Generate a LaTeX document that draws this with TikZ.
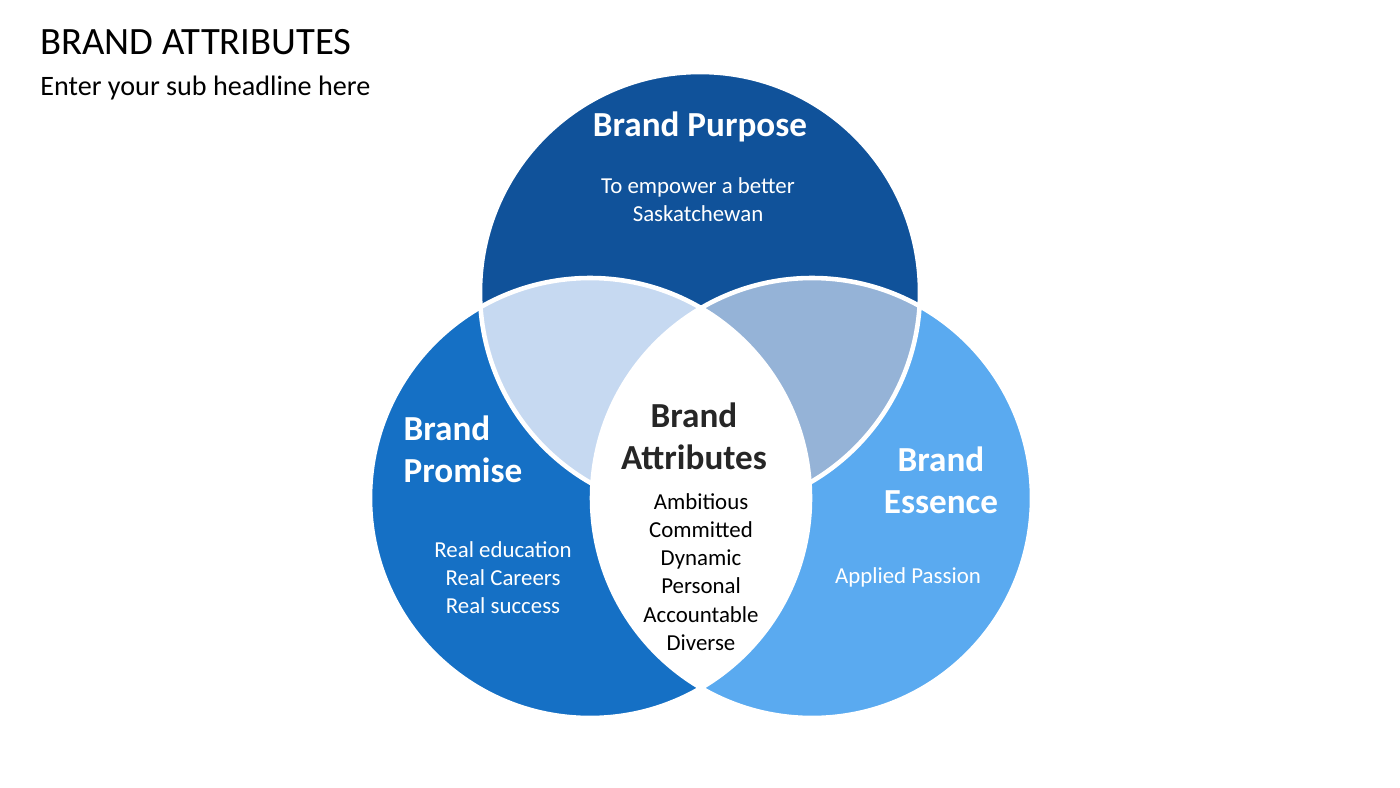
\documentclass[tikz,border=0pt]{standalone}
\usepackage{fontspec}
\setmainfont{Carlito}
\definecolor{purposeblue}{HTML}{10529A}
\definecolor{promiseblue}{HTML}{1570C5}
\definecolor{essenceblue}{HTML}{5AAAF0}
\definecolor{lightblue}{HTML}{C6D9F1}
\definecolor{greyblue}{HTML}{95B3D7}
\tikzset{
  head/.style={font=\fontsize{10}{12}\selectfont\bfseries,align=center},
  body/.style={font=\fontsize{6.5}{8}\selectfont,align=center},
  gap/.style={draw=white,line width=1.3pt}
}
\begin{document}
\begin{tikzpicture}[x=0.01cm,y=-0.01cm]
  \useasboundingbox (0,0) rectangle (1400,788);
  % circles
  \coordinate (top) at (700,292);
  \coordinate (left) at (590,498);
  \coordinate (right) at (812,498);
  \fill[purposeblue] (top) circle (220);
  \fill[promiseblue] (left) circle (220);
  \fill[essenceblue] (right) circle (220);
  \begin{scope}
    \clip (top) circle (220);
    \fill[lightblue] (left) circle (220);
    \fill[greyblue] (right) circle (220);
  \end{scope}
  \begin{scope}
    \clip (left) circle (220);
    \fill[white] (right) circle (220);
  \end{scope}
  \draw[gap] (top) circle (220);
  \draw[gap] (left) circle (220);
  \draw[gap] (right) circle (220);
  % texts
  \node[anchor=base west,font=\fontsize{11}{13}\selectfont] (title) at (28,55) {BRAND ATTRIBUTES};
  \node[anchor=base west,font=\fontsize{8}{10}\selectfont] (sub) at (28,96) {Enter your sub headline here};
  \node[head,white] (purpose) at (700,127) {Brand Purpose};
  \node[body,white] (purposetxt) at (698,200) {To empower a better\\Saskatchewan};
  \node[head,white,align=left] (promise) at (463,449) {Brand\\Promise};
  \node[body,white] (promisetxt) at (503,578) {Real education\\Real Careers\\Real success};
  \node[head,black!85] (attr) at (694,436) {Brand\\Attributes};
  \node[body,black] (attrtxt) at (701,572) {Ambitious\\Committed\\Dynamic\\Personal\\Accountable\\Diverse};
  \node[head,white] (essence) at (941,480) {Brand\\Essence};
  \node[body,white] (essencetxt) at (908,577) {Applied Passion};
\end{tikzpicture}
\end{document}
